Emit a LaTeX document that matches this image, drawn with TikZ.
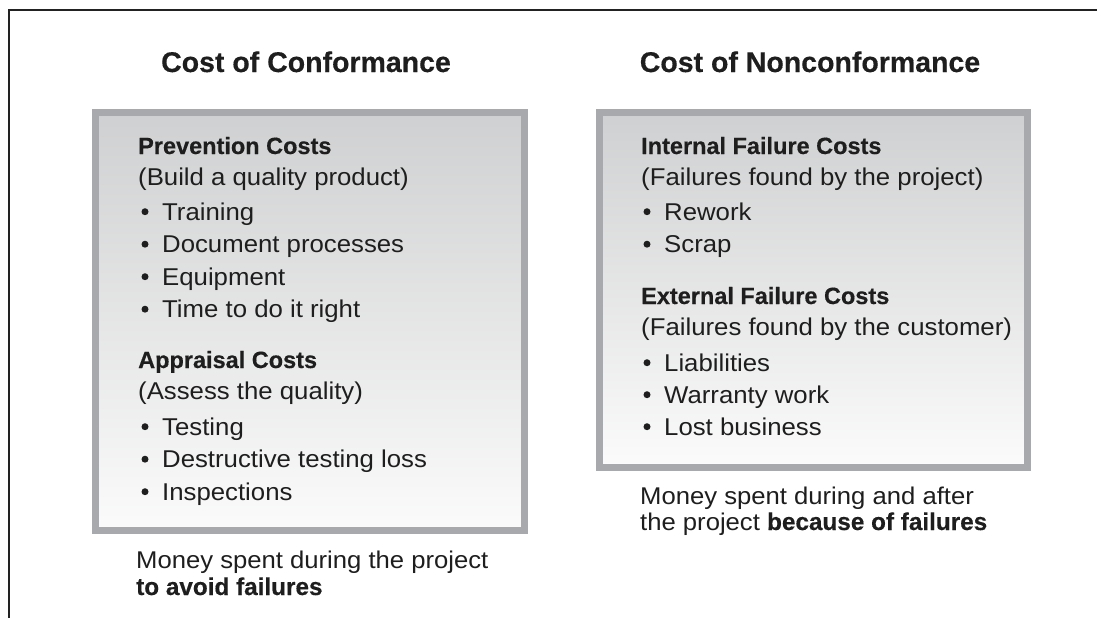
\documentclass[tikz,border=0pt]{standalone}
\usepackage{fontspec}
\setmainfont{Liberation Sans}[FakeStretch=1.06]
\newfontfamily\headfont{Liberation Sans}[BoldFeatures={FakeBold=0.4}]
\newfontfamily\titlefont{Liberation Sans}[BoldFeatures={FakeBold=0.4}]
\definecolor{framec}{HTML}{222222}
\definecolor{boxborder}{HTML}{A8A9AC}
\definecolor{boxtop}{HTML}{CFD0D1}
\definecolor{boxbot}{HTML}{FBFBFB}
\definecolor{txt}{HTML}{1E1E1E}
\tikzset{
  panel/.style={draw=boxborder, line width=7pt, top color=boxtop, bottom color=boxbot, anchor=north west, inner sep=0pt},
  ttl/.style={anchor=base, inner sep=0pt, text=txt, font=\titlefont\fontsize{28.5}{30}\selectfont\bfseries},
  head/.style={anchor=base west, inner sep=0pt, text=txt, font=\headfont\fontsize{23.5}{26}\selectfont\bfseries},
  body/.style={anchor=base west, inner sep=0pt, text=txt, font=\fontsize{24.3}{26}\selectfont},
  captext/.style={anchor=base west, inner sep=0pt, text=txt, font=\fontsize{24.2}{26}\selectfont},
  bul/.style={circle, fill=txt, inner sep=0pt, minimum size=7pt}
}
\newcommand{\capbold}[1]{{\headfont\fontsize{24.3}{26}\selectfont\bfseries #1}}
\begin{document}
\begin{tikzpicture}[x=1pt, y=-1pt]
\useasboundingbox (0,0) rectangle (1097,618);
% frame (open at right and bottom)
\coordinate (fa) at (9,618);
\coordinate (fb) at (9,10);
\coordinate (fc) at (1097,10);
\draw[framec, line width=2.8pt] (fa) -- (fb) -- (fc);

% titles
\node[ttl] (t1) at (306,72) {Cost of Conformance};
\node[ttl] (t2) at (810,72) {Cost of Nonconformance};

% panels
\node[panel, minimum width=429pt, minimum height=418pt] (lbox) at (91.5,108.5) {};
\node[panel, minimum width=428pt, minimum height=355pt] (rbox) at (595.5,108.5) {};

% left panel content
\node[head] (lh1) at (138,154) {Prevention Costs};
\node[body] (lp1) at (138,185) {(Build a quality product)};
\node[bul] (lb1) at (145,211.7) {};
\node[body] (li1) at (162,220) {Training};
\node[bul] (lb2) at (145,244.2) {};
\node[body] (li2) at (162,252.5) {Document processes};
\node[bul] (lb3) at (145,276.7) {};
\node[body] (li3) at (162,285) {Equipment};
\node[bul] (lb4) at (145,309.2) {};
\node[body] (li4) at (162,317.5) {Time to do it right};
\node[head] (lh2) at (138,368) {Appraisal Costs};
\node[body] (lp2) at (138,399) {(Assess the quality)};
\node[bul] (lb5) at (145,426.7) {};
\node[body] (li5) at (162,435) {Testing};
\node[bul] (lb6) at (145,459.2) {};
\node[body] (li6) at (162,467.5) {Destructive testing loss};
\node[bul] (lb7) at (145,491.7) {};
\node[body] (li7) at (162,500) {Inspections};

% right panel content
\node[head] (rh1) at (641,154) {Internal Failure Costs};
\node[body] (rp1) at (641,185) {(Failures found by the project)};
\node[bul] (rb1) at (647,211.7) {};
\node[body] (ri1) at (664,220) {Rework};
\node[bul] (rb2) at (647,244.2) {};
\node[body] (ri2) at (664,252.5) {Scrap};
\node[head] (rh2) at (641,304) {External Failure Costs};
\node[body] (rp2) at (641,335) {(Failures found by the customer)};
\node[bul] (rb3) at (647,362.7) {};
\node[body] (ri3) at (664,371) {Liabilities};
\node[bul] (rb4) at (647,394.7) {};
\node[body] (ri4) at (664,403) {Warranty work};
\node[bul] (rb5) at (647,426.7) {};
\node[body] (ri5) at (664,435) {Lost business};

% captions
\node[captext] (lc1) at (136,568) {Money spent during the project};
\node[captext] (lc2) at (136,595) {\capbold{to avoid failures}};
\node[captext] (rc1) at (640,504) {Money spent during and after};
\node[captext] (rc2) at (640,530) {the project \capbold{because of failures}};
\end{tikzpicture}
\end{document}
